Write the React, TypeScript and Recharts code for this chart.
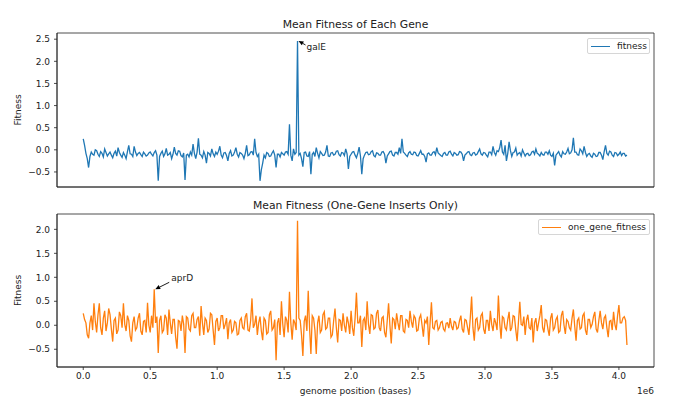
import React from 'react';
import { LineChart, Line, XAxis, YAxis, ReferenceDot, ReferenceArea } from 'recharts';

// genome position of each plotted gene, in kb
const positionsKb = [
  0, 10, 20, 30, 40, 50, 60, 70, 80, 90,
  100, 110, 120, 130, 140, 150, 160, 170, 180, 190,
  200, 210, 220, 230, 240, 250, 260, 270, 280, 290,
  300, 310, 320, 330, 340, 350, 360, 370, 380, 390,
  400, 410, 420, 430, 440, 450, 460, 470, 480, 490,
  500, 510, 520, 530, 540, 550, 560, 570, 580, 590,
  600, 610, 620, 630, 640, 650, 660, 670, 680, 690,
  700, 710, 720, 730, 740, 750, 760, 770, 780, 790,
  800, 810, 820, 830, 840, 850, 860, 870, 880, 890,
  900, 910, 920, 930, 940, 950, 960, 970, 980, 990,
  1000, 1010, 1020, 1030, 1040, 1050, 1060, 1070, 1080, 1090,
  1100, 1110, 1120, 1130, 1140, 1150, 1160, 1170, 1180, 1190,
  1200, 1210, 1220, 1230, 1240, 1250, 1260, 1270, 1280, 1290,
  1300, 1310, 1320, 1330, 1340, 1350, 1360, 1370, 1380, 1390,
  1400, 1410, 1420, 1430, 1440, 1450, 1460, 1470, 1480, 1490,
  1500, 1510, 1520, 1530, 1540, 1550, 1560, 1570, 1580, 1590,
  1600, 1610, 1620, 1630, 1640, 1650, 1660, 1670, 1680, 1690,
  1700, 1710, 1720, 1730, 1740, 1750, 1760, 1770, 1780, 1790,
  1800, 1810, 1820, 1830, 1840, 1850, 1860, 1870, 1880, 1890,
  1900, 1910, 1920, 1930, 1940, 1950, 1960, 1970, 1980, 1990,
  2000, 2010, 2020, 2030, 2040, 2050, 2060, 2070, 2080, 2090,
  2100, 2110, 2120, 2130, 2140, 2150, 2160, 2170, 2180, 2190,
  2200, 2210, 2220, 2230, 2240, 2250, 2260, 2270, 2280, 2290,
  2300, 2310, 2320, 2330, 2340, 2350, 2360, 2370, 2380, 2390,
  2400, 2410, 2420, 2430, 2440, 2450, 2460, 2470, 2480, 2490,
  2500, 2510, 2520, 2530, 2540, 2550, 2560, 2570, 2580, 2590,
  2600, 2610, 2620, 2630, 2640, 2650, 2660, 2670, 2680, 2690,
  2700, 2710, 2720, 2730, 2740, 2750, 2760, 2770, 2780, 2790,
  2800, 2810, 2820, 2830, 2840, 2850, 2860, 2870, 2880, 2890,
  2900, 2910, 2920, 2930, 2940, 2950, 2960, 2970, 2980, 2990,
  3000, 3010, 3020, 3030, 3040, 3050, 3060, 3070, 3080, 3090,
  3100, 3110, 3120, 3130, 3140, 3150, 3160, 3170, 3180, 3190,
  3200, 3210, 3220, 3230, 3240, 3250, 3260, 3270, 3280, 3290,
  3300, 3310, 3320, 3330, 3340, 3350, 3360, 3370, 3380, 3390,
  3400, 3410, 3420, 3430, 3440, 3450, 3460, 3470, 3480, 3490,
  3500, 3510, 3520, 3530, 3540, 3550, 3560, 3570, 3580, 3590,
  3600, 3610, 3620, 3630, 3640, 3650, 3660, 3670, 3680, 3690,
  3700, 3710, 3720, 3730, 3740, 3750, 3760, 3770, 3780, 3790,
  3800, 3810, 3820, 3830, 3840, 3850, 3860, 3870, 3880, 3890,
  3900, 3910, 3920, 3930, 3940, 3950, 3960, 3970, 3980, 3990,
  4000, 4010, 4020, 4030, 4040, 4050, 4060,
];

// mean fitness of each gene
const meanFitness = [
  0.25, 0.10, -0.08, -0.20, -0.40, -0.15, -0.05, -0.10, -0.12, 0.00,
  -0.02, -0.10, -0.15, -0.04, -0.08, -0.16, 0.02, -0.06, -0.14, -0.09,
  -0.05, -0.12, -0.18, -0.08, -0.03, -0.14, 0.05, -0.06, -0.12, -0.17,
  -0.06, -0.12, -0.20, -0.04, 0.10, -0.09, -0.10, -0.15, 0.08, -0.05,
  -0.13, -0.08, -0.06, -0.11, -0.15, -0.05, -0.09, -0.14, -0.12, -0.07,
  -0.05, -0.10, -0.14, -0.06, -0.02, -0.12, -0.70, -0.15, -0.08, -0.03,
  -0.15, -0.09, 0.03, -0.12, -0.10, -0.06, -0.20, -0.10, 0.06, -0.08,
  -0.12, -0.02, -0.03, -0.13, -0.16, -0.07, -0.68, -0.12, -0.10, -0.16,
  -0.05, -0.12, 0.13, -0.08, -0.20, -0.05, 0.26, -0.10, -0.12, -0.18,
  -0.04, -0.12, -0.30, -0.06, -0.08, -0.14, 0.02, -0.09, -0.15, -0.05,
  -0.10, -0.03, 0.08, -0.12, -0.18, -0.07, -0.06, -0.13, -0.25, -0.08,
  -0.02, -0.14, -0.12, -0.05, 0.05, -0.10, -0.16, -0.06, -0.08, -0.12,
  -0.20, -0.08, 0.10, -0.13, -0.11, -0.05, -0.04, -0.12, 0.25, -0.06,
  -0.15, -0.10, -0.70, -0.45, -0.30, -0.12, -0.18, -0.06, -0.08, -0.15,
  -0.14, -0.07, -0.02, -0.12, -0.40, -0.10, -0.10, -0.16, -0.06, -0.09,
  -0.12, -0.05, -0.04, -0.10, 0.58, -0.12, -0.25, 0.02, -0.10, -0.06,
  2.46, -0.12, -0.08, -0.20, -0.38, -0.06, -0.05, -0.14, -0.15, -0.04,
  -0.55, -0.10, -0.06, -0.15, 0.05, -0.08, -0.18, -0.04, -0.08, -0.13,
  -0.12, -0.05, 0.10, -0.14, -0.15, -0.07, -0.06, -0.12, -0.10, -0.03,
  -0.02, -0.11, -0.14, -0.06, -0.07, -0.13, 0.02, -0.09, -0.43, -0.15,
  -0.10, -0.05, -0.04, -0.12, -0.18, -0.08, 0.06, -0.14, -0.55, -0.20,
  -0.12, -0.06, -0.05, -0.11, -0.10, -0.04, -0.02, -0.13, -0.16, -0.07,
  -0.08, -0.12, -0.12, -0.05, -0.04, -0.10, -0.30, -0.14, -0.09, -0.04,
  -0.03, -0.12, -0.14, -0.06, -0.06, -0.10, 0.05, -0.08, 0.25, -0.05,
  -0.08, -0.12, -0.15, -0.07, -0.04, -0.10, -0.11, -0.05, -0.06, -0.13,
  -0.14, -0.08, -0.02, -0.10, -0.10, -0.15, -0.28, -0.09, -0.07, -0.12,
  -0.12, -0.06, -0.04, -0.11, 0.05, -0.07, -0.10, -0.13, -0.15, -0.08,
  -0.06, -0.12, -0.12, -0.05, -0.03, -0.10, -0.14, -0.06, -0.08, -0.12,
  -0.11, -0.04, -0.05, -0.10, -0.25, -0.12, -0.09, -0.05, -0.04, -0.11,
  -0.13, -0.07, -0.06, -0.12, -0.10, -0.04, 0.02, -0.09, -0.12, -0.06,
  -0.07, -0.12, -0.16, -0.05, -0.05, -0.11, 0.08, -0.06, -0.12, -0.02,
  -0.04, 0.05, 0.22, -0.05, -0.10, 0.10, -0.25, -0.08, 0.18, -0.02,
  -0.15, -0.06, -0.05, 0.04, -0.12, -0.08, -0.06, -0.14, 0.00, -0.07,
  -0.14, -0.09, -0.08, -0.13, -0.11, -0.05, -0.03, -0.10, 0.02, -0.08,
  -0.10, -0.14, -0.06, -0.11, -0.12, -0.05, -0.05, -0.10, -0.02, -0.12,
  -0.15, -0.08, -0.35, -0.12, -0.08, -0.04, -0.12, -0.16, -0.04, -0.09,
  -0.10, -0.05, 0.03, -0.09, -0.07, 0.00, 0.27, -0.05, -0.05, -0.11,
  -0.12, 0.02, -0.02, -0.09, 0.08, -0.06, -0.15, -0.10, -0.08, -0.14,
  -0.17, -0.08, -0.10, -0.15, -0.14, -0.06, -0.06, -0.12, -0.22, -0.04,
  0.10, -0.08, -0.12, -0.03, -0.05, -0.12, -0.15, -0.06, -0.07, -0.13,
  -0.10, -0.05, -0.13, -0.08, -0.08, -0.14, -0.12,
];

// mean fitness, one-gene inserts only
const oneGeneFitness = [
  0.25, 0.12, 0.05, -0.20, -0.27, 0.05, 0.20, -0.10, 0.46, 0.08,
  -0.15, 0.22, 0.46, -0.05, -0.20, 0.15, 0.30, -0.12, 0.05, 0.35,
  0.22, -0.08, -0.34, 0.10, 0.15, -0.18, -0.10, 0.28, 0.20, -0.05,
  0.46, 0.02, -0.12, 0.20, 0.10, -0.22, -0.34, 0.05, 0.18, -0.10,
  -0.05, 0.15, 0.25, -0.12, -0.20, 0.08, 0.10, -0.15, 0.47, 0.00,
  -0.15, 0.20, -0.05, 0.75, 0.05, 0.18, -0.58, 0.10, 0.20, -0.15,
  -0.10, 0.22, 0.15, -0.20, 0.33, 0.05, -0.18, 0.12, 0.12, -0.25,
  -0.49, 0.10, 0.08, -0.12, 0.20, 0.02, -0.58, 0.18, 0.15, -0.08,
  -0.12, 0.20, 0.25, -0.05, -0.05, 0.12, 0.18, -0.22, 0.40, 0.05,
  -0.20, 0.15, 0.10, -0.15, -0.08, 0.25, 0.22, -0.10, -0.41, 0.08,
  0.15, -0.12, -0.05, 0.20, 0.20, -0.08, 0.02, 0.15, -0.29, 0.05,
  0.12, -0.15, -0.10, 0.08, 0.05, -0.20, -0.18, 0.10, 0.15, -0.05,
  -0.08, 0.18, 0.25, -0.10, -0.12, 0.10, 0.56, -0.05, 0.02, 0.20,
  -0.20, 0.05, 0.18, -0.12, -0.31, 0.15, 0.10, -0.18, -0.15, 0.22,
  0.30, -0.10, -0.05, 0.12, -0.73, 0.05, 0.15, -0.20, 0.50, 0.02,
  -0.25, 0.18, 0.10, -0.15, 0.70, 0.05, -0.30, 0.12, 0.05, -0.10,
  2.18, 0.15, 0.10, -0.20, -0.64, 0.08, 0.20, -0.12, 0.72, -0.05,
  -0.60, 0.20, 0.15, -0.10, -0.60, 0.05, 0.20, -0.15, -0.10, 0.22,
  0.28, -0.08, -0.05, 0.15, 0.15, -0.25, -0.20, 0.10, 0.35, -0.05,
  -0.36, 0.12, 0.10, -0.12, 0.25, 0.00, -0.15, 0.18, 0.05, -0.18,
  0.30, -0.05, -0.22, 0.15, 0.68, 0.05, 0.05, 0.20, -0.45, 0.10,
  0.15, -0.10, 0.50, 0.02, -0.18, 0.22, 0.20, -0.08, -0.05, 0.25,
  0.32, -0.05, -0.12, 0.15, 0.18, -0.15, -0.25, 0.10, 0.46, 0.00,
  -0.38, 0.15, 0.12, -0.08, 0.25, 0.05, -0.10, 0.20, 0.20, -0.12,
  -0.15, 0.12, 0.10, -0.05, 0.30, 0.08, -0.05, 0.20, 0.15, -0.12,
  -0.10, 0.15, 0.22, 0.00, -0.24, 0.10, 0.05, 0.18, -0.41, 0.05,
  0.48, -0.05, -0.08, 0.08, 0.10, -0.10, -0.05, 0.06, 0.08, -0.08,
  -0.12, 0.04, 0.05, -0.06, 0.15, -0.02, -0.10, 0.08, 0.06, -0.08,
  -0.05, 0.10, 0.20, -0.08, -0.15, 0.12, 0.10, -0.05, -0.20, 0.15,
  0.60, -0.05, -0.32, 0.12, 0.15, -0.10, -0.05, 0.20, 0.25, -0.08,
  -0.18, 0.10, 0.10, -0.12, 0.30, 0.02, -0.12, 0.15, 0.05, -0.10,
  0.62, 0.05, -0.28, 0.18, 0.15, -0.05, -0.10, 0.12, 0.28, -0.12,
  -0.05, 0.20, 0.18, -0.10, -0.33, 0.08, 0.49, 0.02, 0.00, 0.18,
  -0.20, 0.10, 0.22, -0.05, -0.08, 0.15, -0.36, 0.05, 0.15, -0.12,
  0.05, 0.20, 0.42, -0.05, -0.15, 0.12, 0.10, -0.08, -0.22, 0.15,
  0.25, -0.10, -0.05, 0.12, 0.18, -0.15, -0.12, 0.20, 0.30, 0.00,
  -0.18, 0.12, 0.08, -0.05, -0.10, 0.15, 0.33, -0.02, -0.32, 0.10,
  0.15, -0.08, -0.05, 0.20, 0.25, -0.10, -0.20, 0.12, 0.12, -0.05,
  0.02, 0.18, 0.28, -0.08, -0.15, 0.10, 0.30, 0.05, -0.08, 0.15,
  0.20, -0.05, -0.25, 0.08, 0.10, -0.10, 0.28, 0.02, -0.10, 0.20,
  0.42, 0.05, 0.05, 0.15, 0.18, 0.10, -0.41,
];

const xTicks = [0, 500000, 1000000, 1500000, 2000000, 2500000, 3000000, 3500000, 4000000];
const topYTicks = [-0.5, 0, 0.5, 1, 1.5, 2, 2.5];
const bottomYTicks = [-0.5, 0, 0.5, 1, 1.5, 2];

// labelled genes
const galEIndex = 160;
const aprDIndex = 53;

const topData = positionsKb.map((p, i) => ({ pos: p * 1000, fitness: meanFitness[i] }));
const bottomData = positionsKb.map((p, i) => ({ pos: p * 1000, one_gene_fitness: oneGeneFitness[i] }));

const font = "'DejaVu Sans', sans-serif";
const textColor = '#222';
const xDomain = [-196000, 4262000];
const topYDomain = [-0.84, 2.64];
const bottomYDomain = [-0.87, 2.32];

const fmtY = (v: number) => (v < 0 ? '\u2212' + Math.abs(v).toFixed(1) : v.toFixed(1));
const fmtX = (v: number) => (v / 1e6).toFixed(1);

const arrow = (x1: number, y1: number, x2: number, y2: number) => {
  const dx = x2 - x1;
  const dy = y2 - y1;
  const len = Math.hypot(dx, dy);
  const ux = dx / len;
  const uy = dy / len;
  const bx = x2 - ux * 5;
  const by = y2 - uy * 5;
  return (
    <g>
      <line x1={x1} y1={y1} x2={bx} y2={by} stroke="#000" strokeWidth={0.9} />
      <polygon
        points={`${x2},${y2} ${bx - uy * 2.2},${by + ux * 2.2} ${bx + uy * 2.2},${by - ux * 2.2}`}
        fill="#000"
      />
    </g>
  );
};

const GalELabel = (props: any) => {
  const { cx, cy } = props;
  return (
    <g>
      {arrow(cx + 8, cy + 4, cx + 1, cy)}
      <text x={cx + 9} y={cy + 9.5} fontSize={9} fill={textColor} fontFamily={font}>galE</text>
    </g>
  );
};

const AprDLabel = (props: any) => {
  const { cx, cy } = props;
  return (
    <g>
      {arrow(cx + 15, cy - 7, cx + 1, cy)}
      <text x={cx + 17} y={cy - 8.5} fontSize={9} fill={textColor} fontFamily={font}>aprD</text>
    </g>
  );
};

const tickStyle = { fontSize: 9, fill: textColor, fontFamily: font };
const axisStroke = { stroke: '#222', strokeWidth: 0.8 };

const LegendBox = ({ left, top, width, color, label }: any) => (
  <div
    style={{
      position: 'absolute',
      left,
      top,
      width,
      height: 16,
      boxSizing: 'border-box',
      border: '1px solid #d6d6d6',
      borderRadius: 2,
      background: 'rgba(255,255,255,0.8)',
      display: 'flex',
      alignItems: 'center',
      fontSize: 9,
      fontFamily: font,
      color: textColor,
    }}
  >
    <div style={{ width: 19, height: 0, borderTop: `1.4px solid ${color}`, marginLeft: 3, marginRight: 7 }} />
    <span>{label}</span>
  </div>
);

export default function App() {
  return (
    <div style={{ position: 'absolute', left: 0, top: 0, width: 680, height: 409, background: '#fff', fontFamily: font }}>
      <div style={{ position: 'absolute', left: 0, top: 0 }}>
        <LineChart width={680} height={200} data={topData} margin={{ top: 33, right: 26, bottom: 0, left: 17 }}>
          <XAxis
            dataKey="pos"
            type="number"
            domain={xDomain}
            ticks={xTicks}
            allowDataOverflow
            tick={false}
            tickSize={3}
            height={13}
            axisLine={axisStroke}
            tickLine={axisStroke}
          />
          <YAxis
            type="number"
            domain={topYDomain}
            ticks={topYTicks}
            allowDataOverflow
            tickFormatter={fmtY}
            tick={tickStyle}
            tickSize={3}
            tickMargin={4}
            width={40}
            axisLine={axisStroke}
            tickLine={axisStroke}
          />
          <ReferenceArea
            x1={xDomain[0]}
            x2={xDomain[1]}
            y1={topYDomain[0]}
            y2={topYDomain[1]}
            fill="none"
            stroke="#222"
            strokeWidth={0.8}
            ifOverflow="visible"
          />
          <Line type="linear" dataKey="fitness" stroke="#1f77b4" strokeWidth={1.3} dot={false} isAnimationActive={false} />
          <ReferenceDot
            x={positionsKb[galEIndex] * 1000}
            y={meanFitness[galEIndex]}
            r={0}
            ifOverflow="visible"
            shape={GalELabel}
          />
        </LineChart>
      </div>
      <div style={{ position: 'absolute', left: 0, top: 200 }}>
        <LineChart width={680} height={209} data={bottomData} margin={{ top: 14, right: 26, bottom: 12, left: 17 }}>
          <XAxis
            dataKey="pos"
            type="number"
            domain={xDomain}
            ticks={xTicks}
            allowDataOverflow
            tickFormatter={fmtX}
            tick={tickStyle}
            tickSize={3}
            tickMargin={3}
            height={30}
            axisLine={axisStroke}
            tickLine={axisStroke}
          />
          <YAxis
            type="number"
            domain={bottomYDomain}
            ticks={bottomYTicks}
            allowDataOverflow
            tickFormatter={fmtY}
            tick={tickStyle}
            tickSize={3}
            tickMargin={4}
            width={40}
            axisLine={axisStroke}
            tickLine={axisStroke}
          />
          <ReferenceArea
            x1={xDomain[0]}
            x2={xDomain[1]}
            y1={bottomYDomain[0]}
            y2={bottomYDomain[1]}
            fill="none"
            stroke="#222"
            strokeWidth={0.8}
            ifOverflow="visible"
          />
          <Line type="linear" dataKey="one_gene_fitness" stroke="#ff7f0e" strokeWidth={1.3} dot={false} isAnimationActive={false} />
          <ReferenceDot
            x={positionsKb[aprDIndex] * 1000}
            y={oneGeneFitness[aprDIndex]}
            r={0}
            ifOverflow="visible"
            shape={AprDLabel}
          />
        </LineChart>
      </div>

      <svg width={680} height={409} style={{ position: 'absolute', left: 0, top: 0, pointerEvents: 'none' }}>
        <g fontFamily={font} fill={textColor}>
          <text x={355.5} y={28} fontSize={10.8} textAnchor="middle">Mean Fitness of Each Gene</text>
          <text x={355.5} y={209} fontSize={10.8} textAnchor="middle">Mean Fitness (One-Gene Inserts Only)</text>
          <text x={355.5} y={394} fontSize={9} textAnchor="middle">genome position (bases)</text>
          <text x={654} y={394} fontSize={9} textAnchor="end">1e6</text>
          <text transform="translate(21,110) rotate(-90)" fontSize={9} textAnchor="middle">Fitness</text>
          <text transform="translate(21,290.5) rotate(-90)" fontSize={9} textAnchor="middle">Fitness</text>
        </g>
      </svg>

      <LegendBox left={587} top={38} width={63} color="#1f77b4" label="fitness" />
      <LegendBox left={538} top={219} width={112} color="#ff7f0e" label="one_gene_fitness" />
    </div>
  );
}
